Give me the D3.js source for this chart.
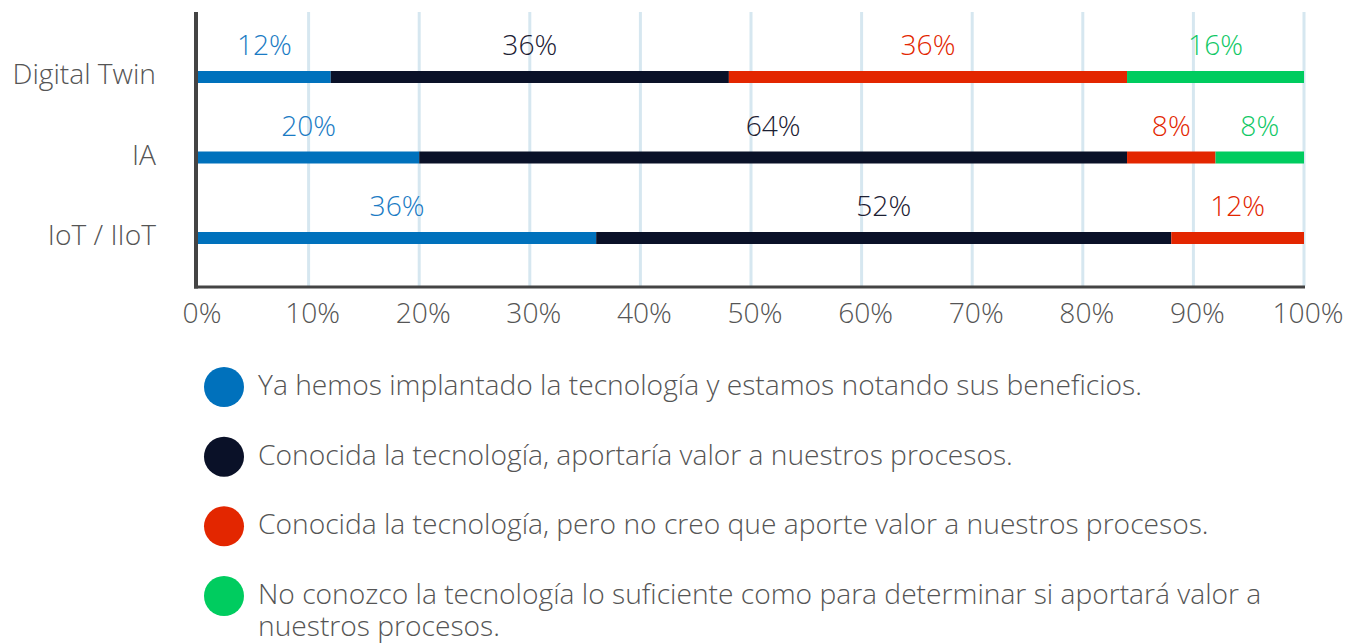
<!DOCTYPE html>
<html>
<head>
<meta charset="utf-8">
<script src="https://cdn.jsdelivr.net/npm/d3@7"></script>
<style>
  body { margin: 0; background: #fff; }
  svg { display: block; font-family: "Open Sans", sans-serif; font-weight: 350; }
</style>
</head>
<body>
<svg id="chart" width="1355" height="643"></svg>
<script>
// data
var categories = ["Digital Twin", "IA", "IoT / IIoT"]
var seriesNames = [
  "Ya hemos implantado la tecnología y estamos notando sus beneficios.",
  "Conocida la tecnología, aportaría valor a nuestros procesos.",
  "Conocida la tecnología, pero no creo que aporte valor a nuestros procesos.",
  "No conozco la tecnología lo suficiente como para determinar si aportará valor a nuestros procesos."
]
var implantado = [12, 20, 36]
var aportaria = [36, 64, 52]
var noAporta = [36, 8, 12]
var noConozco = [16, 8, 0]
var xTicks = [0, 10, 20, 30, 40, 50, 60, 70, 80, 90, 100]

var colors = ["#0071bc", "#0a1128", "#e32600", "#00cc5f"]
var labelColors = ["#1a7bc4", "#1c2033", "#e32600", "#10c865"]
var fontSize = 28.2

var rows = categories.map(function(c, i) {
  return { cat: c, implantado: implantado[i], aportaria: aportaria[i], noAporta: noAporta[i], noConozco: noConozco[i] }
})
var keys = ["implantado", "aportaria", "noAporta", "noConozco"]
var stacked = d3.stack().keys(keys)(rows)

var svg = d3.select("#chart")

var x = d3.scaleLinear().domain([0, 100]).range([198, 1304])
var y = d3.scalePoint().domain(categories).range([77, 238])

// gridlines
svg.append("g")
  .selectAll("line")
  .data(xTicks.slice(1))
  .enter().append("line")
  .attr("x1", function(d) { return x(d) })
  .attr("x2", function(d) { return x(d) })
  .attr("y1", 12)
  .attr("y2", 286)
  .attr("stroke", "#d6e7f0")
  .attr("stroke-width", 3)

// bars
var barH = 12
var layers = svg.append("g")
  .selectAll("g")
  .data(stacked)
  .enter().append("g")
  .attr("fill", function(d, i) { return colors[i] })

layers.selectAll("rect")
  .data(function(d) { return d })
  .enter().append("rect")
  .attr("x", function(d) { return x(d[0]) })
  .attr("width", function(d) { return x(d[1]) - x(d[0]) })
  .attr("y", function(d) { return y(d.data.cat) - barH / 2 })
  .attr("height", barH)

// value labels
svg.append("g")
  .selectAll("g")
  .data(stacked)
  .enter().append("g")
  .attr("fill", function(d, i) { return labelColors[i] })
  .selectAll("text")
  .data(function(d) { return d.filter(function(s) { return s[1] - s[0] > 0 }) })
  .enter().append("text")
  .attr("x", function(d) { return (x(d[0]) + x(d[1])) / 2 })
  .attr("y", function(d) { return y(d.data.cat) - 22 })
  .attr("text-anchor", "middle")
  .attr("font-size", fontSize)
  .text(function(d) { return Math.round(d[1] - d[0]) + "%" })

// axes lines
svg.append("line")
  .attr("x1", 194).attr("x2", 1305)
  .attr("y1", 287).attr("y2", 287)
  .attr("stroke", "#444").attr("stroke-width", 3)
svg.append("line")
  .attr("x1", 196).attr("x2", 196)
  .attr("y1", 12).attr("y2", 288.5)
  .attr("stroke", "#444").attr("stroke-width", 4)

// category labels
svg.append("g")
  .selectAll("text")
  .data(categories)
  .enter().append("text")
  .attr("x", 156)
  .attr("y", function(d) { return y(d) + 7 })
  .attr("text-anchor", "end")
  .attr("font-size", fontSize)
  .attr("fill", "#555")
  .text(function(d) { return d })

// tick labels
svg.append("g")
  .selectAll("text")
  .data(xTicks)
  .enter().append("text")
  .attr("x", function(d) { return x(d) + 4 })
  .attr("y", 323)
  .attr("text-anchor", "middle")
  .attr("font-size", fontSize)
  .attr("fill", "#555")
  .text(function(d) { return d + "%" })

// legend
var legendLines = [
  [seriesNames[0]],
  [seriesNames[1]],
  [seriesNames[2]],
  ["No conozco la tecnología lo suficiente como para determinar si aportará valor a", "nuestros procesos."]
]
var ly = d3.scaleLinear().domain([0, 3]).range([387, 596])
var legend = svg.append("g")
  .selectAll("g")
  .data(legendLines)
  .enter().append("g")
  .attr("transform", function(d, i) { return "translate(0," + ly(i) + ")" })

legend.append("circle")
  .attr("cx", 224)
  .attr("cy", 0)
  .attr("r", 20)
  .attr("fill", function(d, i) { return colors[i] })

legend.append("text")
  .attr("x", 258)
  .attr("y", 8)
  .attr("font-size", fontSize)
  .attr("fill", "#555")
  .selectAll("tspan")
  .data(function(d) { return d })
  .enter().append("tspan")
  .attr("x", 258)
  .attr("dy", function(d, i) { return i ? 32 : 0 })
  .text(function(d) { return d })
</script>
</body>
</html>
